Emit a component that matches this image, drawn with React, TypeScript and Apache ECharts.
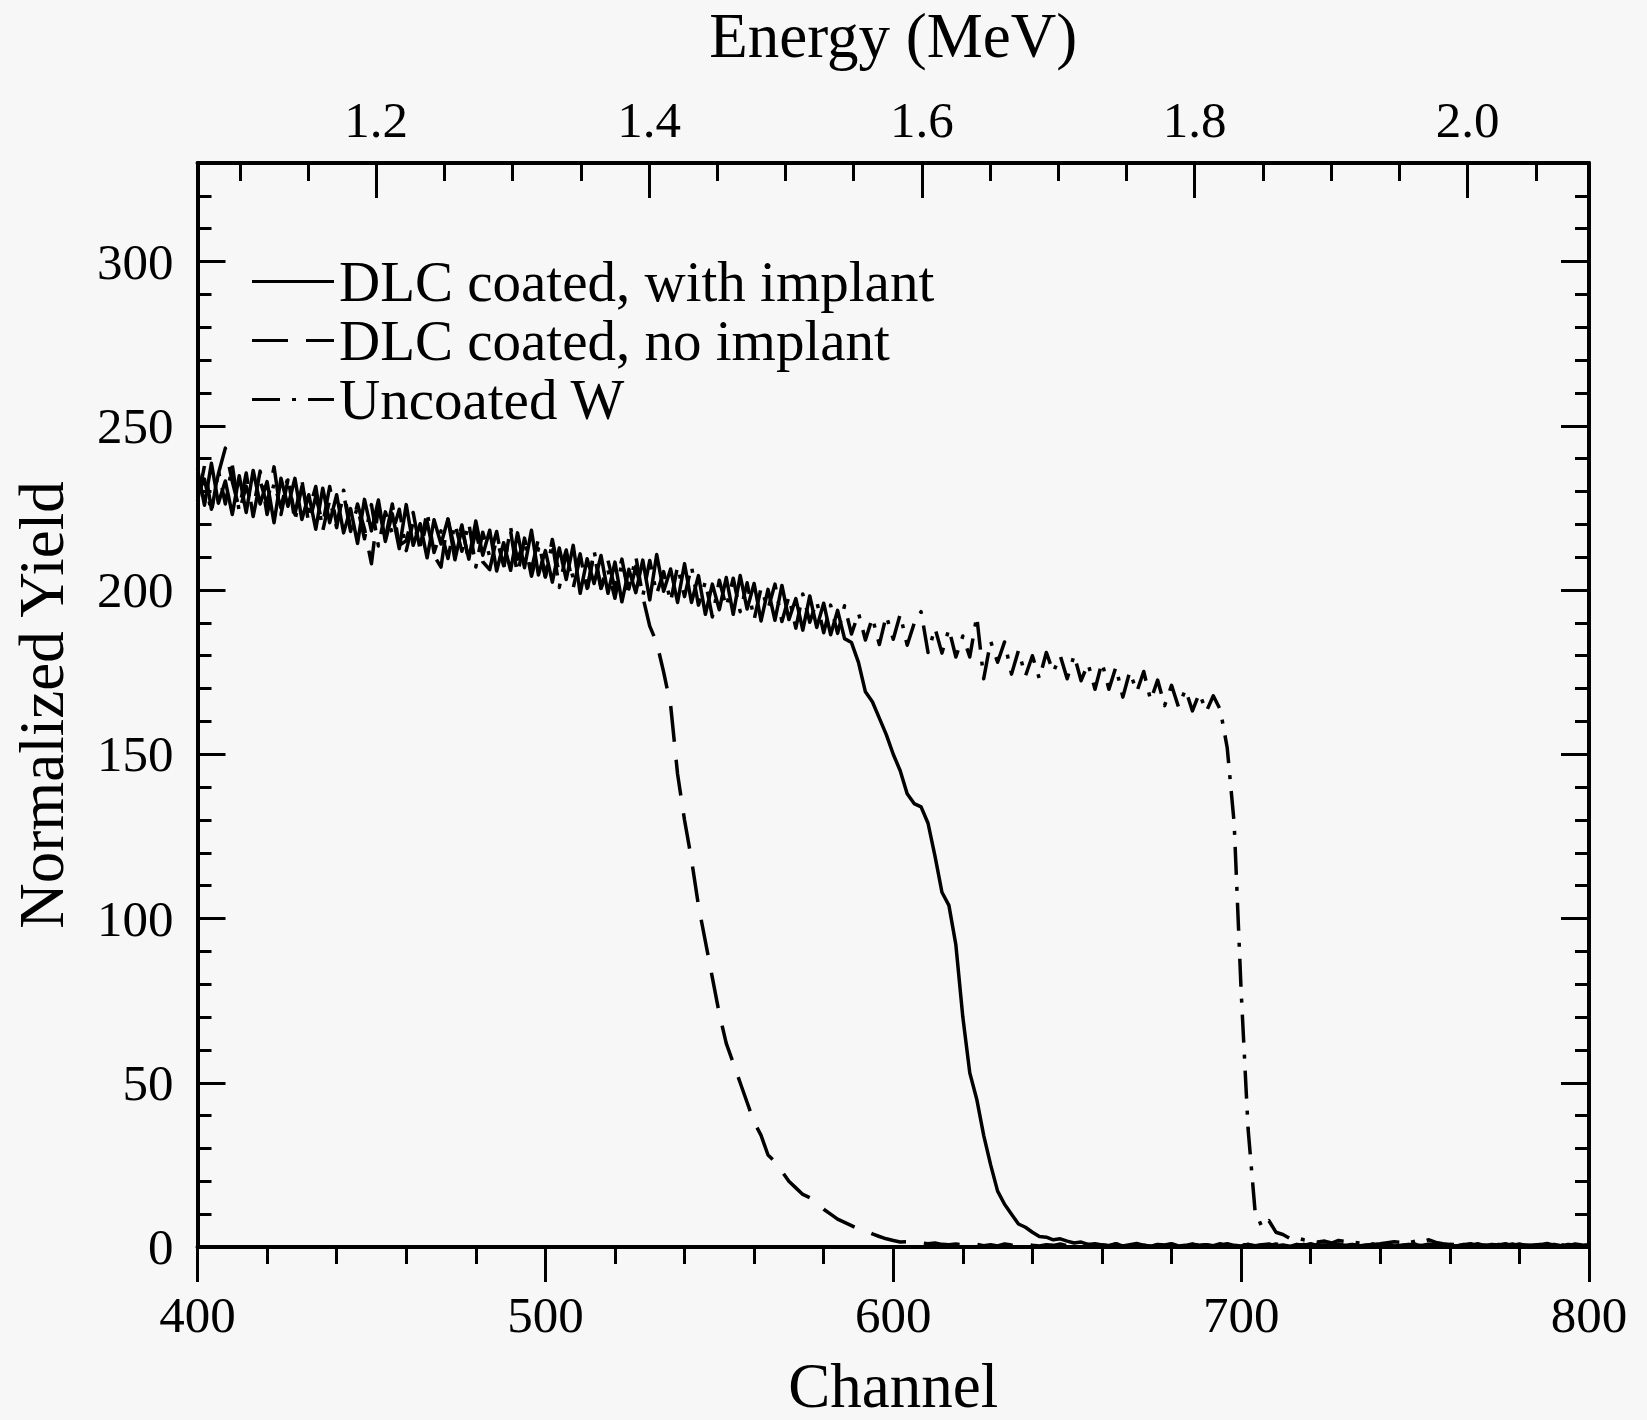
import React, { useEffect, useRef } from 'react';
import * as echarts from 'echarts';

const channels = [
  400, 402, 404, 406, 408, 410, 412, 414, 416, 418,
  420, 422, 424, 426, 428, 430, 432, 434, 436, 438,
  440, 442, 444, 446, 448, 450, 452, 454, 456, 458,
  460, 462, 464, 466, 468, 470, 472, 474, 476, 478,
  480, 482, 484, 486, 488, 490, 492, 494, 496, 498,
  500, 502, 504, 506, 508, 510, 512, 514, 516, 518,
  520, 522, 524, 526, 528, 530, 532, 534, 536, 538,
  540, 542, 544, 546, 548, 550, 552, 554, 556, 558,
  560, 562, 564, 566, 568, 570, 572, 574, 576, 578,
  580, 582, 584, 586, 588, 590, 592, 594, 596, 598,
  600, 602, 604, 606, 608, 610, 612, 614, 616, 618,
  620, 622, 624, 626, 628, 630, 632, 634, 636, 638,
  640, 642, 644, 646, 648, 650, 652, 654, 656, 658,
  660, 662, 664, 666, 668, 670, 672, 674, 676, 678,
  680, 682, 684, 686, 688, 690, 692, 694, 696, 698,
  700, 702, 704, 706, 708, 710, 712, 714, 716, 718,
  720, 722, 724, 726, 728, 730, 732, 734, 736, 738,
  740, 742, 744, 746, 748, 750, 752, 754, 756, 758,
  760, 762, 764, 766, 768, 770, 772, 774, 776, 778,
  780, 782, 784, 786, 788, 790, 792, 794, 796, 798,
  800,
];

const yieldWithImplant = [
  237, 225.8, 238.6, 226.4, 233.2, 223, 234.8, 223.6, 236.4, 226.2,
  233, 220.5, 234, 225.5, 234, 221.5, 229, 218.5, 231, 220.5,
  229, 217.4, 224.8, 214.2, 227.6, 218, 227.4, 214.8, 223.2, 212.6,
  226, 213.6, 220.2, 209.8, 221.4, 214, 221.6, 209.2, 218.8, 209.4,
  221, 210.6, 218.2, 205.8, 214.4, 206, 217.4, 206.8, 218.2, 204.6,
  212, 202.4, 212.8, 203.2, 213.6, 199, 209.5, 202, 210.5, 199,
  208.5, 196.4, 206.3, 199.2, 209.1, 197, 210.8, 199.6, 206.4, 196.2,
  208, 196.2, 204.4, 192.6, 201.8, 194, 203.8, 192.6, 204.4, 194.2,
  202, 190.6, 200.2, 190.8, 201.4, 191, 197.4, 187.8, 198.2, 188.6,
  196, 186.4, 193.8, 185.2, 184, 178, 169, 166, 161, 156,
  150, 145, 138, 135, 134, 129, 119, 108, 104, 92,
  70, 53, 45, 34, 25, 17, 13, 10, 7, 6,
  4.5, 3.2, 3, 2.2, 2.5, 1.8, 1.2, 1.5, 0.8, 1,
  0.6, 0.4, 0.9, 0.3, 0.7, 1.1, 0.5, 0.2, 0.8, 0.6,
  1.0, 0.3, 0.5, 0.9, 0.4, 0.7, 0.2, 0.6, 1.0, 0.5,
  0.3, 0.8, 0.4, 0.7, 0.9, 0.3, 0.6, 0.2, 0.8, 0.5,
  1.0, 0.4, 0.6, 0.3, 0.9, 0.5, 0.7, 0.2, 0.6, 0.8,
  0.4, 1.0, 0.3, 0.5, 0.7, 0.9, 0.2, 0.6, 0.4, 0.8,
  0.5, 0.3, 0.7, 1.0, 0.4, 0.6, 0.2, 0.8, 0.5, 0.9,
  0.3, 0.6, 0.4, 0.7, 1.1, 0.5, 0.3, 0.8, 0.6, 0.4,
  0.7,
];

const yieldNoImplant = [
  227, 237.8, 224.6, 235.4, 243.2, 233, 224.8, 235.6, 222.4, 233.2,
  226, 237.5, 223, 233.5, 223, 233.5, 220, 228.5, 220, 231.5,
  220, 229.4, 217.8, 226.2, 218.6, 208, 225.4, 215.8, 226.2, 213.6,
  215, 223.6, 212.2, 220.8, 210.4, 207, 221.6, 212.2, 219.8, 208.4,
  218, 208.6, 206.2, 215.8, 207.4, 218, 204.4, 215.8, 206.2, 215.6,
  204, 215.4, 204.8, 212.2, 200.6, 210, 200.5, 211, 200.5, 209,
  200.5, 209.4, 198.3, 207.2, 198, 189, 184, 175, 165, 144,
  130, 118, 104, 93, 82, 71, 62, 56, 50, 44,
  38, 34, 28, 26, 23, 20, 18, 16, 15, 13.5,
  11.5, 10, 8.5, 7.5, 6.5, 5.5, 5, 4, 3.2, 2.5,
  2, 1.5, 1.6, 1.2, 1.3, 1, 1.2, 0.8, 0.7, 0.9,
  0.6, 0.5, 0.8, 0.4, 0.7, 0.3, 0.9, 0.6, 0.4, 0.8,
  0.5, 0.3, 0.7, 0.5, 0.9, 0.4, 0.6, 0.2, 0.8, 0.5,
  0.7, 0.4, 1.0, 0.3, 0.6, 0.8, 0.5, 0.2, 0.7, 0.4,
  0.9, 0.6, 0.3, 0.8, 0.5, 0.7, 0.4, 1.0, 0.3, 0.6,
  0.5, 0.8, 0.2, 0.7, 0.4, 0.9, 0.5, 0.6, 0.3, 0.8,
  0.4, 0.7, 0.5, 1.0, 0.3, 0.6, 0.8, 0.4, 0.5, 0.9,
  0.2, 0.6, 0.7, 0.4, 0.8, 0.3, 0.5, 0.9, 0.6, 0.4,
  0.7, 0.3, 0.8, 0.5, 1.0, 0.4, 0.6, 0.2, 0.7, 0.5,
  0.9, 0.4, 0.6, 0.8, 0.3, 0.7, 0.5, 0.4, 0.9, 0.6,
  0.5,
];

const yieldUncoated = [
  229, 233.8, 223.6, 236.4, 226.2, 238, 223.8, 231.6, 224.4, 236.2,
  223, 232.5, 225, 234.5, 221, 231.5, 224, 231.5, 218, 227.5,
  219, 230.4, 218.8, 225.2, 215.6, 226, 213.4, 223.8, 217.2, 224.6,
  212, 220.6, 213.2, 223.8, 211.4, 218, 209.6, 220.2, 211.8, 220.4,
  207, 217.6, 210.2, 217.8, 206.4, 219, 209.4, 214.8, 204.2, 212.6,
  204, 214.4, 200.8, 211.2, 203.6, 211, 199.5, 212, 200.5, 206,
  197.5, 208.4, 200.3, 210.2, 198.1, 209, 198.8, 205.6, 196.4, 207.2,
  198, 207.2, 195.4, 202.6, 191.8, 203, 194.8, 203.6, 193.4, 202.2,
  191, 200.6, 194.2, 201.8, 190.4, 198, 188.4, 198.8, 190.2, 196.6,
  187, 195.4, 186.8, 195.2, 186.6, 193, 184.8, 191.6, 183.4, 192.2,
  185, 192.6, 183.2, 189.8, 193.4, 181, 188.4, 180.8, 188.2, 179.6,
  186, 179.6, 192, 173, 184.4, 178, 184.2, 174.4, 181.6, 173.8,
  180, 173, 181, 175, 180, 173, 180.2, 172.4, 177.6, 169.8,
  178, 169.8, 176.6, 167.4, 175.2, 169, 175.2, 166.4, 172.6, 164.8,
  171, 164.4, 169.8, 163.2, 168.6, 163, 167.8, 163.6, 152, 129,
  78, 36, 11, 6, 8, 4.5, 3.8, 2.6, 2.8, 2.2,
  1.8, 1.5, 1.8, 1.2, 2, 1.7, 1.5, 1.2, 1, 0.8,
  1, 1.3, 1.6, 1.4, 1.2, 1.8, 1.5, 2.2, 1.4, 1,
  0.8, 0.7, 0.4, 0.9, 0.5, 0.3, 0.8, 0.6, 1.0, 0.4,
  0.7, 0.5, 0.9, 0.3, 0.6, 0.8, 0.4, 1.1, 0.5, 0.7,
  0.6,
];

const seriesNames = ['DLC coated, with implant', 'DLC coated, no implant', 'Uncoated W'];
const seriesDashes: (number[] | null)[] = [null, [36, 18], [28, 12, 4, 12]];
const channelRange = [400, 800];
const channelMajorStep = 100;
const channelMinorStep = 20;
const yieldRange = [0, 330];
const yieldMinorStep = 10;
const yieldMajorTicks = [0, 50, 100, 150, 200, 250, 300];
const energyRange = [1.069, 2.089];
const energyMajorTicks = [1.2, 1.4, 1.6, 1.8, 2.0];
const energyMinorTicks = [1.1, 1.15, 1.25, 1.3, 1.35, 1.45, 1.5, 1.55, 1.65, 1.7, 1.75, 1.85, 1.9, 1.95, 2.05];

const FONT = '"Liberation Serif", "Times New Roman", Times, serif';
const INK = '#000000';

export default function App() {
  const ref = useRef<HTMLDivElement>(null);

  useEffect(() => {
    document.body.style.margin = '0';
    document.body.style.background = '#f7f7f7';
    if (!ref.current) return;
    const chart = echarts.init(ref.current, undefined, { renderer: 'svg' });

    const tickLine = { color: INK, width: 3 };
    const axisLineStyle = { color: INK, width: 4 };
    const labelStyle = { color: INK, fontFamily: FONT, fontSize: 51 };
    const nameStyle = { color: INK, fontFamily: FONT, fontSize: 63 };
    const hidden = { show: false };

    const toPairs = (ys: number[]) => channels.map((c, i) => [c, ys[i]]);

    // legend drawn as decoration (line sample + label)
    const legendLeft = 252;
    const legendSampleWidth = 82;
    const legendTop = 281.5;
    const legendRow = 59;
    const legendGraphics: any[] = [];
    seriesNames.forEach((name, i) => {
      const y = legendTop + i * legendRow;
      legendGraphics.push({
        type: 'line',
        shape: { x1: legendLeft, y1: y, x2: legendLeft + legendSampleWidth, y2: y },
        style: { stroke: INK, lineWidth: 3, lineDash: seriesDashes[i] || undefined },
        silent: true,
      });
      legendGraphics.push({
        type: 'text',
        x: legendLeft + legendSampleWidth + 5,
        y,
        style: {
          text: name, fill: INK, fontFamily: FONT, fontSize: 57,
          align: 'left', verticalAlign: 'middle',
        },
        silent: true,
      });
    });

    const option: any = {
      animation: false,
      backgroundColor: 'transparent',
      grid: { left: 197.5, right: 58, top: 163, bottom: 173, containLabel: false, outerBoundsMode: 'none' },
      graphic: legendGraphics,
      xAxis: [
        {
          type: 'value', position: 'bottom', min: channelRange[0], max: channelRange[1], interval: channelMinorStep,
          axisLine: { show: true, onZero: false, lineStyle: axisLineStyle },
          axisTick: { show: true, inside: false, length: 17, lineStyle: tickLine },
          axisLabel: hidden, splitLine: hidden,
        },
        {
          type: 'value', position: 'bottom', min: channelRange[0], max: channelRange[1], interval: channelMajorStep,
          axisLine: { show: false, onZero: false },
          axisTick: { show: true, inside: false, length: 35, lineStyle: tickLine },
          axisLabel: { show: true, margin: 42, ...labelStyle },
          splitLine: hidden,
          name: 'Channel', nameLocation: 'middle', nameGap: 107, nameMoveOverlap: false, nameTextStyle: nameStyle,
        },
        {
          type: 'value', position: 'top', min: energyRange[0], max: energyRange[1],
          axisLine: { show: true, onZero: false, lineStyle: axisLineStyle },
          axisTick: { show: true, inside: true, length: 18, lineStyle: tickLine, customValues: energyMinorTicks },
          axisLabel: hidden, splitLine: hidden,
        },
        {
          type: 'value', position: 'top', min: energyRange[0], max: energyRange[1],
          axisLine: { show: false, onZero: false },
          axisTick: { show: true, inside: true, length: 35, lineStyle: tickLine, customValues: energyMajorTicks },
          axisLabel: {
            show: true, margin: 18, customValues: energyMajorTicks,
            formatter: (v: number) => v.toFixed(1), ...labelStyle,
          },
          splitLine: hidden,
          name: 'Energy (MeV)', nameLocation: 'middle', nameGap: 96, nameMoveOverlap: false, nameTextStyle: nameStyle,
        },
      ],
      yAxis: [
        {
          type: 'value', position: 'left', min: yieldRange[0], max: yieldRange[1], interval: yieldMinorStep,
          axisLine: { show: true, onZero: false, lineStyle: axisLineStyle },
          axisTick: { show: true, inside: true, length: 14, lineStyle: tickLine },
          axisLabel: hidden, splitLine: hidden,
        },
        {
          type: 'value', position: 'left', min: yieldRange[0], max: yieldRange[1],
          axisLine: { show: false, onZero: false },
          axisTick: { show: true, inside: true, length: 28, lineStyle: tickLine, customValues: yieldMajorTicks },
          axisLabel: { show: true, margin: 24, customValues: yieldMajorTicks, ...labelStyle },
          splitLine: hidden,
          name: 'Normalized Yield', nameLocation: 'middle', nameGap: 124, nameMoveOverlap: false, nameTextStyle: nameStyle,
        },
        {
          type: 'value', position: 'right', min: yieldRange[0], max: yieldRange[1], interval: yieldMinorStep,
          axisLine: { show: true, onZero: false, lineStyle: axisLineStyle },
          axisTick: { show: true, inside: true, length: 14, lineStyle: tickLine },
          axisLabel: hidden, splitLine: hidden,
        },
        {
          type: 'value', position: 'right', min: yieldRange[0], max: yieldRange[1],
          axisLine: { show: false, onZero: false },
          axisTick: { show: true, inside: true, length: 28, lineStyle: tickLine, customValues: yieldMajorTicks },
          axisLabel: hidden, splitLine: hidden,
        },
      ],
      series: [
        {
          name: seriesNames[0], type: 'line', xAxisIndex: 0, yAxisIndex: 0,
          data: toPairs(yieldWithImplant), symbol: 'none', showSymbol: false,
          lineStyle: { color: INK, width: 3.5, type: 'solid', join: 'round' },
          itemStyle: { color: INK }, z: 3,
        },
        {
          name: seriesNames[1], type: 'line', xAxisIndex: 0, yAxisIndex: 0,
          data: toPairs(yieldNoImplant), symbol: 'none', showSymbol: false,
          lineStyle: { color: INK, width: 3.5, type: seriesDashes[1], join: 'round' },
          itemStyle: { color: INK }, z: 3,
        },
        {
          name: seriesNames[2], type: 'line', xAxisIndex: 0, yAxisIndex: 0,
          data: toPairs(yieldUncoated), symbol: 'none', showSymbol: false,
          lineStyle: { color: INK, width: 3.5, type: seriesDashes[2], join: 'round' },
          itemStyle: { color: INK }, z: 3,
        },
      ],
    };

    chart.setOption(option);
    return () => {
      chart.dispose();
    };
  }, []);

  return (
    <div
      ref={ref}
      style={{ position: 'absolute', left: 0, top: 0, width: 1647, height: 1420, background: '#f7f7f7' }}
    />
  );
}
